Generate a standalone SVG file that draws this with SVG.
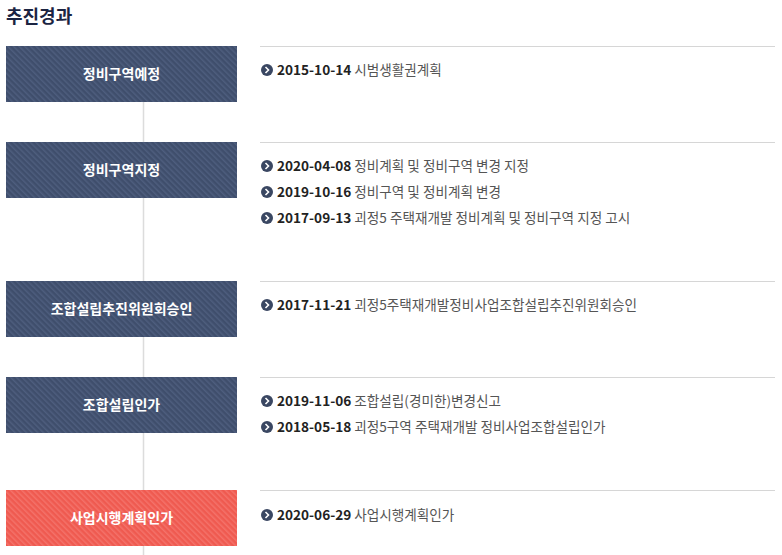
<svg xmlns="http://www.w3.org/2000/svg" width="782" height="555" viewBox="0 0 782 555">
<defs>
<pattern id="pb" width="4" height="4" patternUnits="userSpaceOnUse" patternTransform="rotate(-45)">
<rect width="4" height="4" fill="#3f4e6c"/>
<rect width="1.5" height="4" fill="#4e5e7e"/>
</pattern>
<pattern id="pr" width="4" height="4" patternUnits="userSpaceOnUse" patternTransform="rotate(-45)">
<rect width="4" height="4" fill="#ef5a50"/>
<rect width="1.5" height="4" fill="#f4726a"/>
</pattern>
<symbol id="bul" viewBox="-6 -6 12 12" overflow="visible">
<circle r="6" fill="#3a4762"/>
<path d="M-1.5,-3 L1.5,0 L-1.5,3" fill="none" stroke="#fff" stroke-width="1.6"/>
</symbol>
<style>
text{font-family:"Noto Sans CJK KR","Noto Sans",sans-serif}
.ttl{font-size:18px;font-weight:bold;fill:#1b2442}
.lbl{font-size:14px;font-weight:bold;fill:#fff;text-anchor:middle}
.it{font-size:13.6px;fill:#555}
.d{font-weight:bold;fill:#222}
.hr{stroke:#d6d6d6;stroke-width:1}
</style>
</defs>
<text class="ttl" x="6" y="23">추진경과</text>
<g id="connectors">
<line x1="143.5" y1="101" x2="143.5" y2="555" stroke="#dcdcdc" stroke-width="1.5"/>
</g>
<g id="n1">
<rect x="6" y="46" width="231" height="56" fill="url(#pb)"/>
<text class="lbl" x="121.5" y="79">정비구역예정</text>
<line class="hr" x1="260" y1="46.5" x2="775" y2="46.5"/>
<use href="#bul" x="261" y="64" width="12" height="12"/>
<text class="it" x="277" y="75"><tspan class="d">2015-10-14</tspan> 시범생활권계획</text>
</g>
<g id="n2">
<rect x="6" y="142" width="231" height="56" fill="url(#pb)"/>
<text class="lbl" x="121.5" y="175">정비구역지정</text>
<line class="hr" x1="260" y1="142.5" x2="775" y2="142.5"/>
<use href="#bul" x="261" y="160" width="12" height="12"/>
<text class="it" x="277" y="171"><tspan class="d">2020-04-08</tspan> 정비계획 및 정비구역 변경 지정</text>
<use href="#bul" x="261" y="186" width="12" height="12"/>
<text class="it" x="277" y="197"><tspan class="d">2019-10-16</tspan> 정비구역 및 정비계획 변경</text>
<use href="#bul" x="261" y="212" width="12" height="12"/>
<text class="it" x="277" y="223"><tspan class="d">2017-09-13</tspan> 괴정5 주택재개발 정비계획 및 정비구역 지정 고시</text>
</g>
<g id="n3">
<rect x="6" y="281" width="231" height="56" fill="url(#pb)"/>
<text class="lbl" x="121.5" y="314">조합설립추진위원회승인</text>
<line class="hr" x1="260" y1="281.5" x2="775" y2="281.5"/>
<use href="#bul" x="261" y="299" width="12" height="12"/>
<text class="it" x="277" y="310"><tspan class="d">2017-11-21</tspan> 괴정5주택재개발정비사업조합설립추진위원회승인</text>
</g>
<g id="n4">
<rect x="6" y="377" width="231" height="56" fill="url(#pb)"/>
<text class="lbl" x="121.5" y="410">조합설립인가</text>
<line class="hr" x1="260" y1="377.5" x2="775" y2="377.5"/>
<use href="#bul" x="261" y="395" width="12" height="12"/>
<text class="it" x="277" y="406"><tspan class="d">2019-11-06</tspan> 조합설립(경미한)변경신고</text>
<use href="#bul" x="261" y="421" width="12" height="12"/>
<text class="it" x="277" y="432"><tspan class="d">2018-05-18</tspan> 괴정5구역 주택재개발 정비사업조합설립인가</text>
</g>
<g id="n5">
<rect x="6" y="490" width="231" height="56" fill="url(#pr)"/>
<text class="lbl" x="121.5" y="523">사업시행계획인가</text>
<line class="hr" x1="260" y1="490.5" x2="775" y2="490.5"/>
<use href="#bul" x="261" y="509" width="12" height="12"/>
<text class="it" x="277" y="520"><tspan class="d">2020-06-29</tspan> 사업시행계획인가</text>
</g>
</svg>
